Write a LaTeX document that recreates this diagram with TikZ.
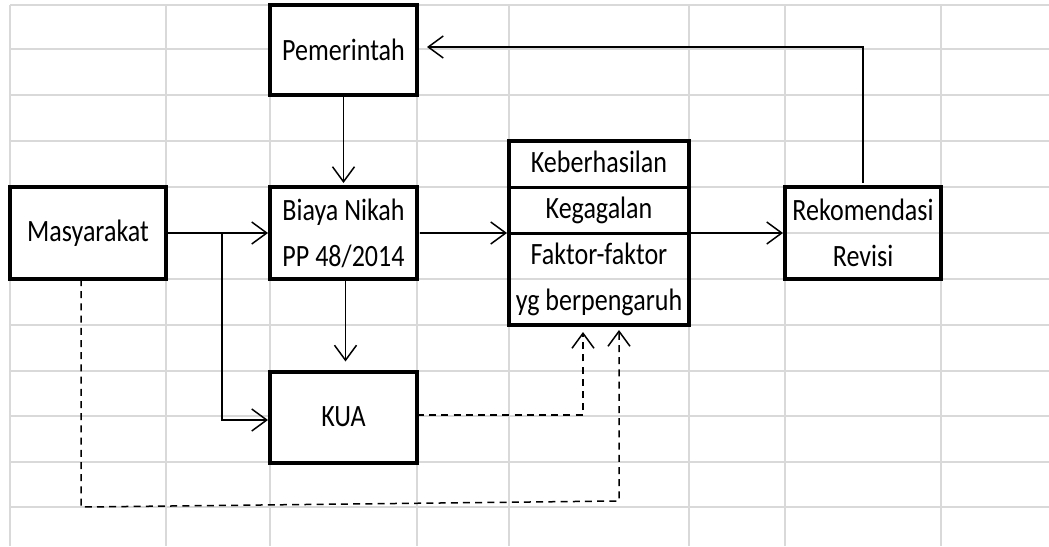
\documentclass[tikz,border=0pt]{standalone}
\usepackage{fontspec}
\setmainfont{Carlito}[FakeStretch=0.84]
\usetikzlibrary{positioning}
\usetikzlibrary{arrows.meta}

\begin{document}
\begin{tikzpicture}[x=0.5pt, y=-0.5pt,
    box/.style={draw, line width=2pt, inner sep=0pt, outer sep=0pt, align=center,
        font=\fontsize{15.5pt}{23pt}\selectfont},
    link/.style={line width=0.75pt, -{Straight Barb[length=7.5pt,width=11pt]}},
    dashlink/.style={link, dash pattern=on 3.5pt off 2.6pt}]
    \useasboundingbox (0,0) rectangle (1049,546);

    % Grid
    \foreach \y in {5,49,95,141,187,233,279,325,371,416,462,507} {
        \draw[line width=1pt, gray!30] (10,\y) -- (1049,\y);
    }
    \foreach \x in {10,166,270,417,509,689,785,941} {
        \draw[line width=1pt, gray!30] (\x,5) -- (\x,546);
    }

    % Boxes
    \node[box, fill=white, minimum width=73.5pt, minimum height=45pt] (pem) at (343.5,50) {Pemerintah};
    \node[box, fill=white, minimum width=78pt, minimum height=46pt] (mas) at (88,233) {Masyarakat};
    \node[box, fill=white, minimum width=73.5pt, minimum height=46pt] (biaya) at (343.5,233) {Biaya Nikah\\PP 48/2014};
    \node[box, minimum width=90pt, minimum height=92pt] (hasil) at (599,233) {Keberhasilan\\Kegagalan\\Faktor-faktor\\yg berpengaruh};
    \node[box, minimum width=78pt, minimum height=46pt] (rek) at (863,233) {Rekomendasi\\Revisi};
    \node[box, fill=white, minimum width=73.5pt, minimum height=45.5pt] (kua) at (343.5,417) {KUA};
    \draw[line width=1.5pt] ([yshift=23pt]hasil.west) -- ([yshift=23pt]hasil.east);
    \draw[line width=1.5pt] (hasil.west) -- (hasil.east);

    % Arrows
    \coordinate (br) at (222,233);
    \draw[link, shorten >=2pt] (pem.south) -- (biaya.north);
    \draw[link, shorten >=1pt] (mas.east) -- (biaya.west);
    \draw[link, shorten >=1pt] (br) |- ([yshift=-1.5pt]kua.west);
    \draw[link, shorten >=5pt] ([xshift=1pt]biaya.south) -- ([xshift=1pt]kua.north);
    \draw[link, shorten <=1.5pt, shorten >=1pt] (biaya.east) -- (hasil.west);
    \draw[link, shorten >=1pt] (hasil.east) -- (rek.west);
    \draw[link, shorten <=2pt, shorten >=5pt] (rek.north) |- ([yshift=1.5pt]pem.east);

    % Dashed feedback
    \coordinate (dl) at (81,507);
    \coordinate (dr) at (619,501);
    \draw[dashlink, shorten >=3.5pt] ([yshift=1pt]kua.east) -| ([xshift=-8pt]hasil.south);
    \draw[dashlink, shorten >=2.5pt] (dl |- mas.south) -- (dl) -- (dr) -- (dr |- hasil.south);
\end{tikzpicture}
\end{document}
